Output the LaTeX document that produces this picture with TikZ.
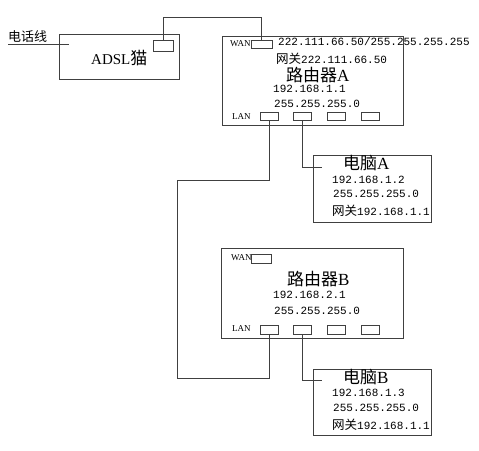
\documentclass[tikz,border=0pt]{standalone}
\usepackage{fontspec}
\setmainfont{Liberation Mono}
\newfontfamily\serifl{Liberation Serif}
\newfontfamily\cjk{Noto Sans CJK SC}
\begin{document}
\begin{tikzpicture}[x=1pt,y=-1pt,
  line/.style={draw=black!75,line width=0.8pt},
  box/.style={line,rectangle,inner sep=0pt},
  port/.style={line,rectangle,inner sep=0pt,minimum width=18pt,minimum height=8pt},
  txt/.style={anchor=west,inner sep=0pt,font=\fontsize{11}{13}\selectfont},
  big/.style={anchor=west,inner sep=0pt,font=\fontsize{17}{19}\selectfont},
  lbl/.style={anchor=west,inner sep=0pt,font=\serifl\fontsize{9}{11}\selectfont}]
\useasboundingbox (0,0) rectangle (479,450);
% modem
\node[box,minimum width=120pt,minimum height=45pt] (modem) at (119,56.5) {};
\node[box,minimum width=20pt,minimum height=11pt] (mport) at (163,45.5) {};
\node[anchor=west,inner sep=0pt] (modemtxt) at (91,58) {\serifl\fontsize{15}{17}\selectfont ADSL{\cjk\fontsize{17}{19}\selectfont 猫}};
\node[anchor=west,inner sep=0pt] (tel) at (8,37) {\cjk\fontsize{13}{15}\selectfont 电话线};
\coordinate (telstart) at (8,44);
\coordinate (telend) at (69,44);
\draw[line] (telstart) -- (telend);
% router A
\node[box,minimum width=181pt,minimum height=89pt] (ra) at (312.5,80.5) {};
\node[lbl] (wanAl) at (230,43.5) {WAN};
\node[box,minimum width=21pt,minimum height=8pt] (wanA) at (261.5,44) {};
\node[txt] (ipwan) at (278,42) {222.111.66.50/255.255.255.255};
\node[txt] (gwA) at (276,59) {{\cjk\fontsize{12.5}{14}\selectfont 网关}222.111.66.50};
\node[big] (nameA) at (286,75) {{\cjk 路由器}{\serifl A}};
\node[txt] (ipA) at (273,89) {192.168.1.1};
\node[txt] (maskA) at (274,104) {255.255.255.0};
\node[lbl] (lanAl) at (232,117) {LAN};
\node[port] (lanA1) at (269.5,116) {};
\node[port] (lanA2) at (302.5,116) {};
\node[port] (lanA3) at (336.5,116) {};
\node[port] (lanA4) at (370.5,116) {};
% router B
\node[box,minimum width=182pt,minimum height=90pt] (rb) at (312,293) {};
\node[lbl] (wanBl) at (231,258) {WAN};
\node[box,minimum width=20pt,minimum height=9pt] (wanB) at (261,258.5) {};
\node[big] (nameB) at (287,279) {{\cjk 路由器}{\serifl B}};
\node[txt] (ipB) at (273,295) {192.168.2.1};
\node[txt] (maskB) at (274,311) {255.255.255.0};
\node[lbl] (lanBl) at (232,329) {LAN};
\node[port,minimum height=9pt] (lanB1) at (269.5,329.5) {};
\node[port,minimum height=9pt] (lanB2) at (302.5,329.5) {};
\node[port,minimum height=9pt] (lanB3) at (336.5,329.5) {};
\node[port,minimum height=9pt] (lanB4) at (370.5,329.5) {};
% PC A
\node[box,minimum width=118pt,minimum height=67pt] (pca) at (372,188.5) {};
\node[big] (pcAname) at (343,163) {{\cjk 电脑}{\serifl A}};
\node[txt] (pcAip) at (332,180) {192.168.1.2};
\node[txt] (pcAmask) at (333,194) {255.255.255.0};
\node[txt] (pcAgw) at (332,211) {{\cjk\fontsize{12.5}{14}\selectfont 网关}192.168.1.1};
% PC B
\node[box,minimum width=118pt,minimum height=66pt] (pcb) at (372,402) {};
\node[big] (pcBname) at (343,377) {{\cjk 电脑}{\serifl B}};
\node[txt] (pcBip) at (332,393) {192.168.1.3};
\node[txt] (pcBmask) at (333,408) {255.255.255.0};
\node[txt] (pcBgw) at (332,425) {{\cjk\fontsize{12.5}{14}\selectfont 网关}192.168.1.1};
% connectors
\coordinate (top) at (163,17);
\draw[line] (mport.north) -- (top) -| (wanA.north);
\coordinate (bendA) at (177,180);
\coordinate (bendB) at (177,378);
\draw[line] (lanA1.south) |- (bendA) -- (bendB) -| (lanB1.south);
\coordinate (pcAin) at (322,167);
\coordinate (pcBin) at (322,380);
\draw[line] (lanA2.south) |- (pcAin);
\draw[line] (lanB2.south) |- (pcBin);
\end{tikzpicture}
\end{document}
